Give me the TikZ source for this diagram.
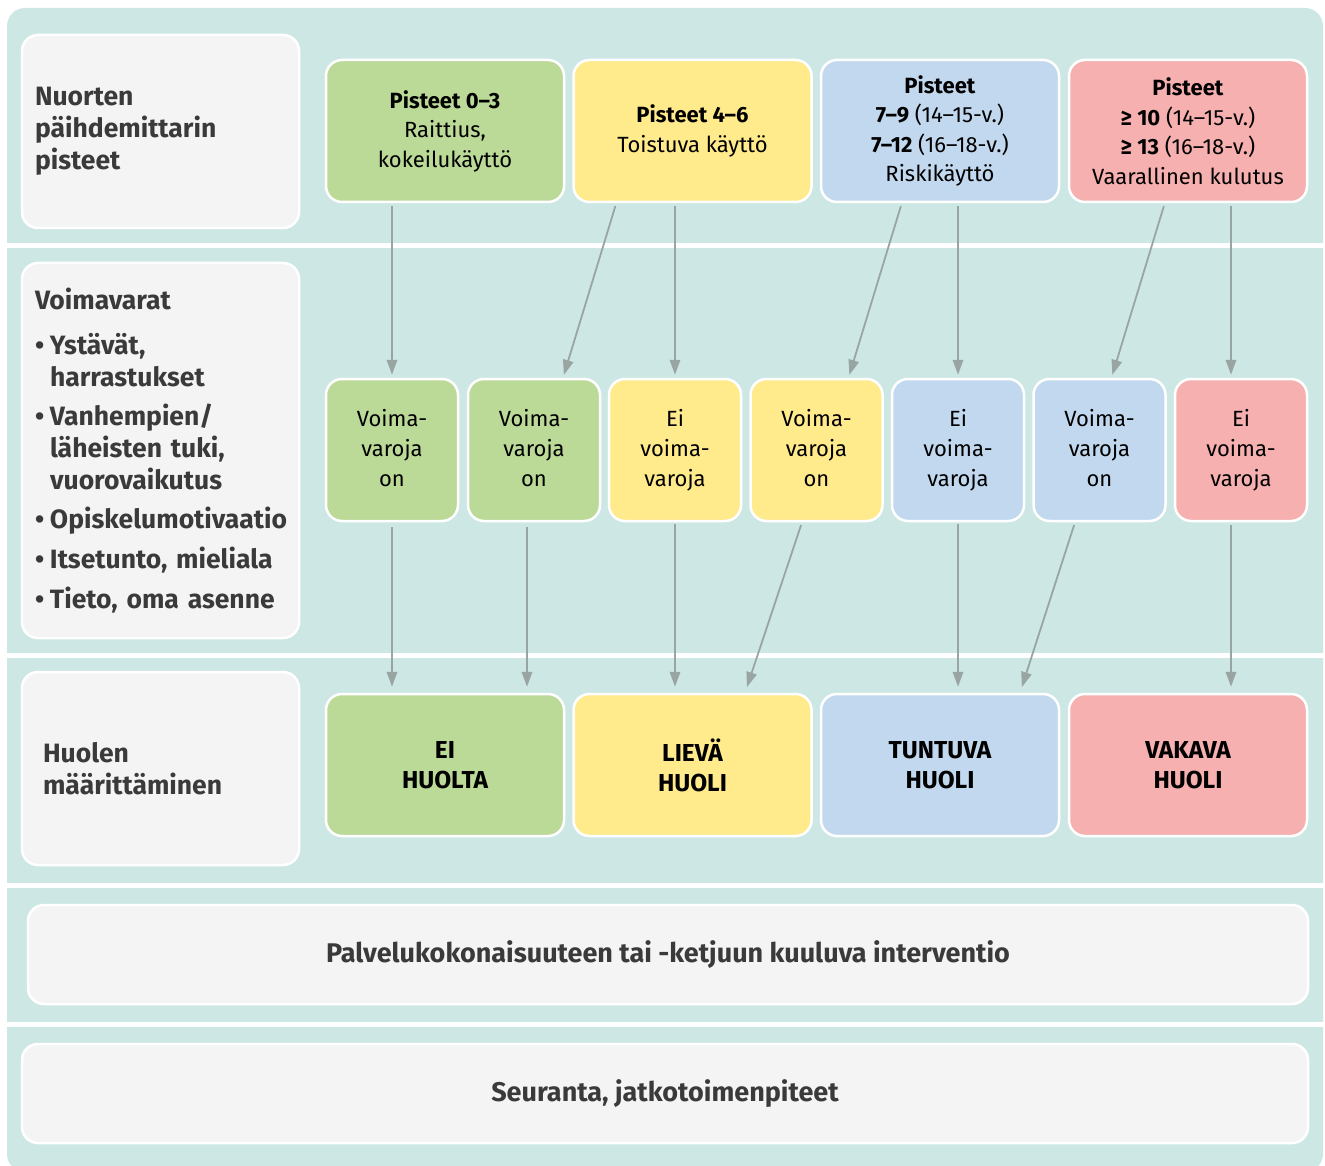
\documentclass[tikz,border=0pt]{standalone}
\usepackage{fontspec}
\setmainfont{Fira Sans}
\usetikzlibrary{arrows.meta}
\definecolor{teal}{HTML}{CDE8E4}
\definecolor{cgreen}{HTML}{BBD997}
\definecolor{cyellow}{HTML}{FFEA8C}
\definecolor{cblue}{HTML}{C2D8EE}
\definecolor{cred}{HTML}{F5B0AF}
\definecolor{cgrey}{HTML}{F4F4F4}
\definecolor{carrow}{HTML}{99A5A2}
\definecolor{dtext}{HTML}{3A3A3A}
\begin{document}
\begin{tikzpicture}[x=1pt,y=-1pt,
  box/.style={draw=white, line width=2.5pt, rounded corners=16pt, inner sep=0pt, align=center, text=black},
  topbox/.style={box, minimum width=238pt, minimum height=142pt, font=\fontsize{22}{29.5}\selectfont},
  midbox/.style={box, minimum width=132pt, minimum height=142pt, font=\fontsize{22}{30}\selectfont},
  botbox/.style={box, minimum width=238pt, minimum height=142pt, font=\bfseries\fontsize{24.5}{30}\selectfont},
  greybox/.style={box, fill=cgrey, text=dtext, font=\bfseries\fontsize{26.5}{32}\selectfont},
  longbox/.style={box, fill=cgrey, text=dtext, minimum height=99pt, font=\bfseries\fontsize{27}{30}\selectfont},
  arr/.style={draw=carrow, line width=1.8pt, -{Triangle[length=15pt,width=10.5pt]}, shorten <=3pt, shorten >=3pt}
]
\useasboundingbox (0,0) rectangle (1325,1166);
% background bands
\fill[teal, rounded corners=18pt] (7,8) rectangle (1323,1172);
\fill[white] (0,243) rectangle (1325,248);
\fill[white] (0,653) rectangle (1325,657.5);
\fill[white] (0,883) rectangle (1325,887.5);
\fill[white] (0,1022) rectangle (1325,1027);

% left labels
\node[greybox, minimum width=277pt, minimum height=193pt, text width=251pt, align=left] (l1) at (160.5,131.5)
  {Nuorten\\päihdemittarin\\pisteet};
\node[greybox, minimum width=277pt, minimum height=375pt, text width=251pt, align=left] (l2) at (160.5,450.5)
  {Voimavarat\\[13pt]
   \makebox[15pt][l]{•}Ystävät,\\
   \hspace*{15pt}harrastukset\\[7pt]
   \makebox[15pt][l]{•}Vanhempien/\\
   \hspace*{15pt}läheisten tuki,\\
   \hspace*{15pt}vuorovaikutus\\[7pt]
   \makebox[15pt][l]{•}Opiskelumotivaatio\\[8pt]
   \makebox[15pt][l]{•}Itsetunto, mieliala\\[8pt]
   \makebox[15pt][l]{•}Tieto, oma asenne};
\node[greybox, minimum width=277pt, minimum height=193pt, text width=235pt, align=left] (l3) at (160.5,768.5)
  {Huolen\\määrittäminen};

% top row
\node[topbox, fill=cgreen] (t1) at (445,131) {\textbf{Pisteet 0–3}\\Raittius,\\kokeilukäyttö};
\node[topbox, fill=cyellow] (t2) at (692.5,131) {\textbf{Pisteet 4–6}\\Toistuva käyttö};
\node[topbox, fill=cblue] (t3) at (940,131) {\textbf{Pisteet}\\\textbf{7–9} (14–15-v.)\\\textbf{7–12} (16–18-v.)\\Riskikäyttö};
\node[topbox, fill=cred] (t4) at (1188,131) {\textbf{Pisteet}\\\textbf{≥ 10} (14–15-v.)\\\textbf{≥ 13} (16–18-v.)\\Vaarallinen kulutus};

% middle row
\node[midbox, fill=cgreen] (m1) at (392,450) {\strut Voima-\\varoja\\on\strut};
\node[midbox, fill=cgreen] (m2) at (534,450) {\strut Voima-\\varoja\\on\strut};
\node[midbox, fill=cyellow] (m3) at (675,450) {\strut Ei\\voima-\\varoja\strut};
\node[midbox, fill=cyellow] (m4) at (816.5,450) {\strut Voima-\\varoja\\on\strut};
\node[midbox, fill=cblue] (m5) at (958,450) {\strut Ei\\voima-\\varoja\strut};
\node[midbox, fill=cblue] (m6) at (1099.5,450) {\strut Voima-\\varoja\\on\strut};
\node[midbox, fill=cred] (m7) at (1241,450) {\strut Ei\\voima-\\varoja\strut};

% bottom row
\node[botbox, fill=cgreen] (b1) at (445,765) {EI\\HUOLTA};
\node[botbox, fill=cyellow] (b2) at (692.5,765) {LIEVÄ\\HUOLI};
\node[botbox, fill=cblue] (b3) at (940,765) {TUNTUVA\\HUOLI};
\node[botbox, fill=cred] (b4) at (1188,765) {VAKAVA\\HUOLI};

% long boxes
\node[longbox, minimum width=1280pt] (p1) at (668,954.5) {Palvelukokonaisuuteen tai -ketjuun kuuluva interventio};
\node[longbox, minimum width=1286pt] (p2) at (665,1093.5) {Seuranta, jatkotoimenpiteet};

% arrows top -> middle
\coordinate (a7) at ([xshift=-10pt]m7.north);
\draw[arr] (t1.south -| m1.north) -- (m1.north);
\draw[arr] ([xshift=44pt]t2.south west) -- ([xshift=29pt]m2.north);
\draw[arr] (t2.south -| m3.north) -- (m3.north);
\draw[arr] ([xshift=82pt]t3.south west) -- ([xshift=32pt]m4.north);
\draw[arr] (t3.south -| m5.north) -- (m5.north);
\draw[arr] ([xshift=97pt]t4.south west) -- ([xshift=12pt]m6.north);
\draw[arr] (t4.south -| a7) -- (a7);

% arrows middle -> bottom
\coordinate (c2) at ([xshift=-7pt]m2.south);
\coordinate (c7) at ([xshift=-10pt]m7.south);
\draw[arr, shorten <=5pt, shorten >=6pt] (m1.south) -- (m1.south |- b1.north);
\draw[arr, shorten <=5pt, shorten >=6pt] (c2) -- (c2 |- b1.north);
\draw[arr, shorten <=2pt, shorten >=6pt] (m3.south) -- (m3.south |- b2.north);
\draw[arr, shorten <=3pt, shorten >=6pt] ([xshift=-14.5pt]m4.south) -- ([xshift=52.5pt]b2.north);
\draw[arr, shorten <=2pt, shorten >=6pt] (m5.south) -- (m5.south |- b3.north);
\draw[arr, shorten <=3pt, shorten >=6pt] ([xshift=-24.5pt]m6.south) -- ([xshift=80pt]b3.north);
\draw[arr, shorten <=3pt, shorten >=6pt] (c7) -- (c7 |- b4.north);
\end{tikzpicture}
\end{document}
